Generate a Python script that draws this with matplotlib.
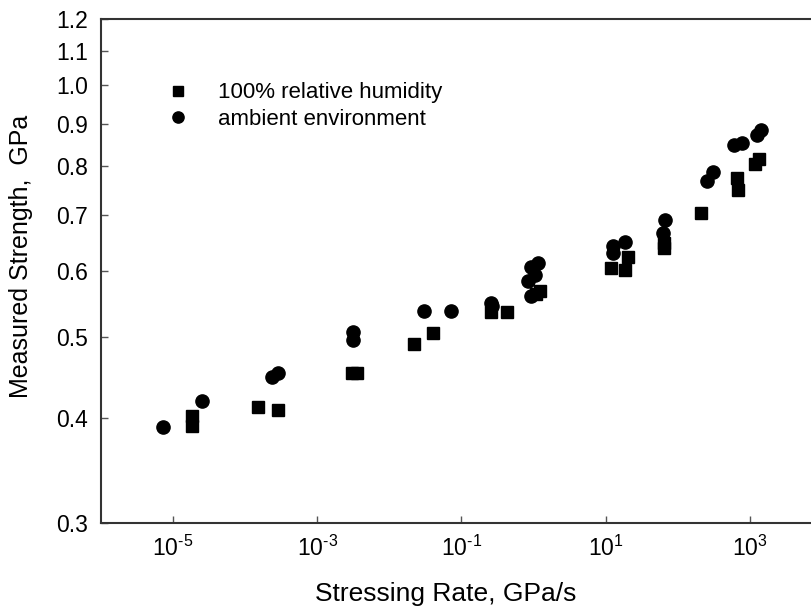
import numpy as np
import matplotlib
matplotlib.use('Agg')
import matplotlib.pyplot as plt
from matplotlib.ticker import FixedLocator, FuncFormatter, NullLocator

plt.rcParams['font.family'] = ['Liberation Sans', 'DejaVu Sans']
plt.rcParams['mathtext.fontset'] = 'custom'
plt.rcParams['mathtext.rm'] = 'Liberation Sans'

# 100% relative humidity (squares)
rh_rate = [1.82e-5, 1.82e-5, 1.54e-4, 2.86e-4, 3.02e-3, 3.55e-3, 0.0218, 0.0404,
           0.260, 0.434, 1.25, 1.09, 11.96, 18.3, 20.3, 65.4, 65.4, 211,
           665, 678, 1192, 1324]
rh_strength = [0.402, 0.391, 0.4125, 0.4095, 0.4534, 0.4534, 0.4904, 0.5054,
               0.5358, 0.5358, 0.5683, 0.5630, 0.6049, 0.6016, 0.6230, 0.6475, 0.6387, 0.7044,
               0.7746, 0.7500, 0.8052, 0.8163]

# ambient environment (circles)
amb_rate = [7.22e-6, 2.51e-5, 2.38e-4, 2.88e-4, 3.15e-3, 3.15e-3, 0.0303, 0.0727,
            0.260, 0.262, 0.932, 1.15, 1.036, 0.836, 0.932, 12.58, 12.58, 18.87,
            67.5, 63.4, 254, 305, 610, 780, 1242, 1429]
amb_strength = [0.3908, 0.4191, 0.4477, 0.4534, 0.5077, 0.4962, 0.5373, 0.5378,
                0.5488, 0.5450, 0.6070, 0.6138, 0.5933, 0.5841, 0.5600, 0.6428, 0.6311, 0.6504,
                0.6895, 0.6666, 0.7678, 0.7871, 0.8490, 0.8537, 0.8728, 0.8831]

x_ticks = [1e-5, 1e-3, 1e-1, 1e1, 1e3]
y_ticks = [0.3, 0.4, 0.5, 0.6, 0.7, 0.8, 0.9, 1.0, 1.1, 1.2]

fig = plt.figure(figsize=(8.12, 6.12), dpi=100)
ax = fig.add_axes([0.1240, 0.1459, 0.8883, 0.8230])

ax.plot(rh_rate, rh_strength, 's', color='black', markersize=8, linestyle='none',
        label='100% relative humidity')
ax.plot(amb_rate, amb_strength, 'o', color='black', markersize=9.5, linestyle='none',
        label='ambient environment')

ax.set_xscale('log')
ax.set_yscale('log')
ax.set_xlim(1e-6, 1e4)
ax.set_ylim(0.3, 1.2)

ax.xaxis.set_major_locator(FixedLocator(x_ticks))
ax.xaxis.set_minor_locator(NullLocator())
ax.xaxis.set_major_formatter(FuncFormatter(
    lambda v, p: r'$\mathregular{10^{%s}}$' % str(int(round(np.log10(v)))).replace('-', '\u2010')))
ax.yaxis.set_major_locator(FixedLocator(y_ticks))
ax.yaxis.set_minor_locator(NullLocator())
ax.yaxis.set_major_formatter(FuncFormatter(lambda v, p: '%.1f' % v))

ax.tick_params(axis='both', direction='in', length=5, width=1, color='#555555',
               labelsize=16.5, pad=9)
for s in ax.spines.values():
    s.set_linewidth(1.5)
    s.set_color('#333333')

ax.set_xlabel('Stressing Rate, GPa/s', fontsize=19)
ax.set_ylabel('Measured Strength,  GPa', fontsize=18)
ax.xaxis.set_label_coords(0.4785, -0.118)
ax.yaxis.set_label_coords(-0.0934, 0.5295)

ax.legend(loc='upper left', bbox_to_anchor=(0.0912, 0.8743), frameon=False,
          fontsize=16, markerscale=0.85, handlelength=1.0, handletextpad=1.33,
          labelspacing=0.25, borderpad=0, borderaxespad=0)

fig.savefig('out.png', dpi=100)
